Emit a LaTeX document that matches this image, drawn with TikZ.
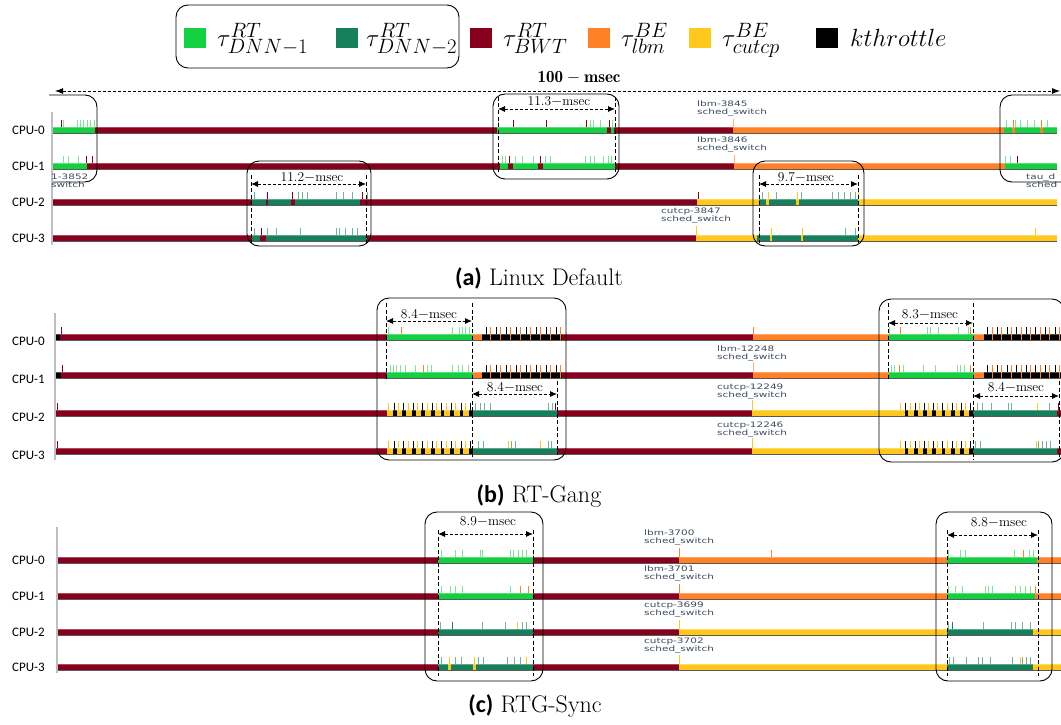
\documentclass[tikz,border=0pt]{standalone}
\usepackage{fontspec}
\usetikzlibrary{arrows.meta}
\newfontfamily\cpufont{Carlito}
\newfontfamily\tracefont[FakeStretch=1.4]{DejaVu Sans}

\definecolor{dnnone}{RGB}{18,208,64}
\definecolor{dnntwo}{RGB}{22,128,92}
\definecolor{bwt}{RGB}{136,0,30}
\definecolor{lbm}{RGB}{255,128,38}
\definecolor{cutcp}{RGB}{255,200,26}
\definecolor{tracetxt}{RGB}{60,74,96}

% one slice of a cpu row: colour, row y, x from, x to
\newcommand{\rowseg}[4]{\fill[#1] (#3,#2-3.5) rectangle (#4,#2+3.5);}
% event ticks on top of a row: colour, row y, x list
\newcommand{\rowticks}[3]{\foreach \tx in {#3} \draw[evtick,#1] (\tx,#2-3.5) -- (\tx,#2-10);}
% sheen and base line of a row: row y, x from, x to
\newcommand{\rowedge}[3]{%
  \fill[white,opacity=.3] (#2,#1-3.5) rectangle (#3,#1-2.5);
  \draw[rowline] (#2,#1+3.5) -- (#3,#1+3.5);}
% kthrottle on a cutcp row: row y, x from, x to, periods
\newcommand{\ythrottle}[4]{%
  \pgfmathsetmacro{\kp}{(#3-#2)/#4}
  \foreach \k in {1,...,#4}{%
    \pgfmathsetmacro{\kx}{#2+\kp*(\k-1)}
    \fill[cutcp] (\kx,#1-3.5) rectangle (\kx+0.6*\kp,#1+3.5);
    \fill[black] (\kx+0.6*\kp,#1-3.5) rectangle (\kx+\kp,#1+3.5);
    \draw[evtick,cutcp] (\kx+0.2*\kp,#1-3.5) -- (\kx+0.2*\kp,#1-10);
    \draw[evtick,black] (\kx+0.75*\kp,#1-3.5) -- (\kx+0.75*\kp,#1-10);}}
% kthrottle on an lbm row: row y, x from, x to, periods
\newcommand{\othrottle}[4]{%
  \fill[black] (#2,#1-3.5) rectangle (#3,#1+3.5);
  \pgfmathsetmacro{\kp}{(#3-#2)/#4}
  \foreach \k in {1,...,#4}{%
    \pgfmathsetmacro{\kx}{#2+\kp*(\k-1)}
    \draw[evtick,black] (\kx+0.4*\kp,#1-3.5) -- (\kx+0.4*\kp,#1-10);
    \draw[evtick,lbm] (\kx+0.85*\kp,#1+3.5) -- (\kx+0.85*\kp,#1-10);}}

\begin{document}
\begin{tikzpicture}[x=1pt,y=-1pt,
  evtick/.style={line width=1pt},
  swtick/.style={line width=.8pt},
  rowline/.style={draw=black!65,line width=.8pt},
  axisln/.style={draw=black!25,line width=1.6pt},
  hlbox/.style={draw=black,rounded corners=12pt,line width=.9pt},
  vguide/.style={line width=.8pt,dash pattern=on 4pt off 2.5pt},
  msarrow/.style={line width=.9pt,dash pattern=on 3pt off 2pt,{Latex[length=7pt,width=6pt]}-{Latex[length=7pt,width=6pt]}},
  spanarrow/.style={line width=.9pt,dash pattern=on 3pt off 2pt,{Latex[length=8pt,width=6pt]}-{Latex[length=8pt,width=6pt]}},
  cpulbl/.style={anchor=east,inner sep=0pt,font=\cpufont\fontsize{13}{14}\selectfont},
  swlbl/.style={anchor=west,inner sep=0pt,align=left,text=tracetxt,font=\tracefont\fontsize{7.5}{8}\selectfont},
  mslbl/.style={anchor=base,inner sep=0pt,font=\fontsize{13.5}{15}\selectfont},
  keylbl/.style={anchor=base west,inner sep=0pt,font=\fontsize{28}{30}\selectfont},
  caplbl/.style={anchor=base,inner sep=0pt,font=\fontsize{24}{26}\selectfont}]
\useasboundingbox (0,0) rectangle (1061,725);

% legend
\draw[hlbox] (176,5) rectangle (459,68);
\fill[dnnone] (184,28) rectangle (206,48);
\node[keylbl] (key-dnn1) at (217,47) {$\tau^{RT}_{DNN-1}$};
\fill[dnntwo] (336,28) rectangle (358,48);
\node[keylbl] (key-dnn2) at (366,47) {$\tau^{RT}_{DNN-2}$};
\fill[bwt] (470,28) rectangle (492,48);
\node[keylbl] (key-bwt) at (503,47) {$\tau^{RT}_{BWT}$};
\fill[lbm] (588,28) rectangle (610,48);
\node[keylbl] (key-lbm) at (621,47) {$\tau^{BE}_{lbm}$};
\fill[cutcp] (689,28) rectangle (711,48);
\node[keylbl] (key-cutcp) at (722,47) {$\tau^{BE}_{cutcp}$};
\fill[black] (816,28) rectangle (838,48);
\node[keylbl] (key-kthr) at (850,47) {$kthrottle$};

% 100 msec span
\node[anchor=base,inner sep=0pt,font=\fontsize{17}{19}\selectfont] (span-lbl) at (579,83) {$\mathbf{100-msec}$};
\coordinate (spanl) at (55,91);
\coordinate (spanr) at (1060,91);
\draw[spanarrow] (spanl) -- (spanr);

% ---------------- (a) Linux Default
\draw[axisln] (52,112) -- (52,245);
\node[cpulbl] (a-cpu0) at (45,130) {CPU-0};
\node[cpulbl] (a-cpu1) at (45,166) {CPU-1};
\node[cpulbl] (a-cpu2) at (45,202) {CPU-2};
\node[cpulbl] (a-cpu3) at (45,238) {CPU-3};

\rowseg{dnnone}{130}{53}{95}
\rowseg{bwt}{130}{95}{497}
\rowseg{dnnone}{130}{497}{614}
\rowseg{bwt}{130}{607}{611}
\rowseg{bwt}{130}{614}{733}
\rowseg{lbm}{130}{733}{1004}
\rowseg{dnnone}{130}{1004}{1057}
\rowseg{lbm}{130}{1012}{1015}
\rowseg{lbm}{130}{1040}{1043}
\rowticks{dnnone!55!white}{130}{63,77,80,83,87,90,94,498,590,593,600,612,1006,1015,1020,1027,1034,1047}
\rowticks{bwt}{130}{61,513,546,586,609}
\rowticks{lbm}{130}{1013,1041}
\draw[swtick,lbm!60!white] (733,126.5) -- (733,119);
\rowedge{130}{53}{1057}

\rowseg{dnnone}{166}{53}{87}
\rowseg{bwt}{166}{87}{500}
\rowseg{dnnone}{166}{500}{615}
\rowseg{bwt}{166}{508}{513}
\rowseg{bwt}{166}{538}{543}
\rowseg{bwt}{166}{615}{734}
\rowseg{lbm}{166}{734}{1005}
\rowseg{dnnone}{166}{1005}{1057}
\rowticks{dnnone!55!white}{166}{63,68,78,502,505,515,522,533,545,550,585,590,594,603,608,611,1005,1010}
\rowticks{bwt}{166}{86,92,509,540,1017}
\draw[swtick,lbm!60!white] (734,162.5) -- (734,155);
\rowedge{166}{53}{1057}

\rowseg{bwt}{202}{53}{252}
\rowseg{dnntwo}{202}{252}{360}
\rowseg{bwt}{202}{266}{268}
\rowseg{bwt}{202}{291}{295}
\rowseg{bwt}{202}{360}{697}
\rowseg{cutcp}{202}{697}{759}
\rowseg{dnntwo}{202}{759}{858}
\rowseg{cutcp}{202}{766}{769}
\rowseg{cutcp}{202}{796}{799}
\rowseg{cutcp}{202}{858}{1057}
\rowticks{dnntwo!60!white}{202}{254,298,302,307,336,343,352,367,762,776,801,832,838,844,850,855}
\rowticks{bwt}{202}{267,292,362,698}
\rowticks{cutcp}{202}{768,797,858}
\rowedge{202}{53}{1057}

\rowseg{bwt}{238}{53}{252}
\rowseg{dnntwo}{238}{252}{260}
\rowseg{bwt}{238}{260}{266}
\rowseg{dnntwo}{238}{266}{367}
\rowseg{bwt}{238}{367}{696}
\rowseg{cutcp}{238}{696}{757}
\rowseg{dnntwo}{238}{757}{858}
\rowseg{cutcp}{238}{770}{772}
\rowseg{cutcp}{238}{801}{803}
\rowseg{cutcp}{238}{858}{1057}
\rowticks{dnntwo!60!white}{238}{254,267,276,300,336,339,345,352,357,759,845,855}
\rowticks{bwt}{238}{261}
\rowticks{cutcp}{238}{771,802,1035}
\draw[swtick,cutcp] (696,234.5) -- (696,226);
\rowedge{238}{53}{1057}

\node[swlbl] (a-lbm0) at (697,109) {lbm-3845\\sched\_switch};
\node[swlbl] (a-lbm1) at (697,145) {lbm-3846\\sched\_switch};
\node[swlbl] (a-cut3) at (661,216) {cutcp-3847\\sched\_switch};
\node[swlbl] (a-left) at (51,181) {1-3852\\switch};
\node[swlbl] (a-right) at (1026,181) {tau\_d\\sched};

\draw[hlbox] (49,95) -- (97,95) -- (97,182) -- (53,182);
\draw[hlbox] (493,94) rectangle (619,179);
\draw[hlbox] (247,161) rectangle (371,246);
\draw[hlbox] (753,161) rectangle (864,246);
\draw[hlbox] (1000,95) rectangle (1100,182);

\draw[vguide] (498,97) -- (498,172);
\draw[vguide] (615,97) -- (615,172);
\coordinate (a113l) at (498,109);
\coordinate (a113r) at (615,109);
\draw[msarrow] (a113l) -- (a113r);
\node[mslbl] (a113) at (559,106) {11.3{$-$}msec};

\draw[vguide] (251,175) -- (251,243);
\draw[vguide] (366,175) -- (366,243);
\coordinate (a112l) at (251,184);
\coordinate (a112r) at (366,184);
\draw[msarrow] (a112l) -- (a112r);
\node[mslbl] (a112) at (312,181) {11.2{$-$}msec};

\draw[vguide] (759,175) -- (759,243);
\draw[vguide] (858,175) -- (858,243);
\coordinate (a97l) at (759,184);
\coordinate (a97r) at (858,184);
\draw[msarrow] (a97l) -- (a97r);
\node[mslbl] (a97) at (806,181) {9.7{$-$}msec};

\node[caplbl] (cap-a) at (539,285) {{\cpufont\bfseries (a)} Linux Default};

% ---------------- (b) RT-Gang
\draw[axisln] (55,313) -- (55,460);
\node[cpulbl] (b-cpu0) at (45,341) {CPU-0};
\node[cpulbl] (b-cpu1) at (45,379) {CPU-1};
\node[cpulbl] (b-cpu2) at (45,417) {CPU-2};
\node[cpulbl] (b-cpu3) at (45,455) {CPU-3};

\rowseg{black}{337}{56}{60}
\rowseg{bwt}{337}{60}{387}
\rowseg{dnnone}{337}{387}{473}
\rowseg{lbm}{337}{473}{482}
\othrottle{337}{482}{562}{8}
\rowseg{bwt}{337}{562}{753}
\rowseg{lbm}{337}{753}{889}
\rowseg{dnnone}{337}{889}{974}
\rowseg{lbm}{337}{974}{984}
\othrottle{337}{984}{1061}{8}
\rowticks{dnnone!55!white}{337}{388,452,459,462,465,469,889,927,930,938,958,968}
\rowticks{bwt}{337}{61}
\rowticks{lbm}{337}{401,753,900,970}
\rowedge{337}{56}{1061}

\rowseg{black}{375}{56}{61}
\rowseg{bwt}{375}{61}{387}
\rowseg{dnnone}{375}{387}{473}
\rowseg{lbm}{375}{473}{482}
\othrottle{375}{482}{562}{8}
\rowseg{bwt}{375}{562}{753}
\rowseg{lbm}{375}{753}{889}
\rowseg{dnnone}{375}{889}{974}
\rowseg{lbm}{375}{974}{984}
\othrottle{375}{984}{1061}{8}
\rowticks{dnnone!55!white}{375}{390,393,396,400,405,415,427,431,452,458,462,468,891,894,903,923,935,957,960,964}
\rowticks{bwt}{375}{62}
\rowticks{lbm}{375}{423,899,970}
\draw[swtick,lbm!60!white] (753,371.5) -- (753,362);
\rowedge{375}{56}{1061}

\rowseg{bwt}{413}{56}{387}
\ythrottle{413}{387}{473}{9}
\rowseg{dnntwo}{413}{473}{557}
\rowseg{bwt}{413}{557}{752}
\rowseg{cutcp}{413}{752}{899}
\ythrottle{413}{899}{973}{8}
\rowseg{dnntwo}{413}{973}{1057}
\rowseg{bwt}{413}{1057}{1061}
\rowticks{dnntwo!60!white}{413}{475,480,484,490,548,552,977,982,991,1008,1011,1049}
\rowticks{bwt}{413}{57,555,1058}
\rowticks{cutcp}{413}{1037}
\draw[swtick,cutcp] (752,409.5) -- (752,400);
\rowedge{413}{56}{1061}

\rowseg{bwt}{451}{56}{387}
\ythrottle{451}{387}{473}{9}
\rowseg{dnntwo}{451}{473}{557}
\rowseg{bwt}{451}{557}{752}
\rowseg{cutcp}{451}{752}{899}
\ythrottle{451}{899}{973}{8}
\rowseg{dnntwo}{451}{973}{1057}
\rowseg{bwt}{451}{1057}{1061}
\rowticks{dnntwo!60!white}{451}{478,483,511,515,548,551,975,980,1038,1042,1046,1050}
\rowticks{bwt}{451}{57}
\rowticks{cutcp}{451}{508,540,1036}
\draw[swtick,cutcp] (752,447.5) -- (752,438);
\rowedge{451}{56}{1061}

\node[swlbl] (b-lbm1) at (717,354) {lbm-12248\\sched\_switch};
\node[swlbl] (b-cut2) at (717,392) {cutcp-12249\\sched\_switch};
\node[swlbl] (b-cut3) at (717,430) {cutcp-12246\\sched\_switch};

\draw[hlbox] (377,298) rectangle (566,460);
\draw[hlbox] (879,299) rectangle (1064,462);

\draw[vguide] (386,303) -- (386,381);
\draw[vguide] (472,303) -- (472,458);
\draw[vguide] (557,381) -- (557,455);
\coordinate (b84al) at (386,321);
\coordinate (b84ar) at (472,321);
\draw[msarrow] (b84al) -- (b84ar);
\node[mslbl] (b84a) at (429,318) {8.4{$-$}msec};
\coordinate (b84bl) at (472,394);
\coordinate (b84br) at (557,394);
\draw[msarrow] (b84bl) -- (b84br);
\node[mslbl] (b84b) at (515,391) {8.4{$-$}msec};

\draw[vguide] (888,303) -- (888,381);
\draw[vguide] (973,303) -- (973,460);
\draw[vguide] (1059,381) -- (1059,460);
\coordinate (b83l) at (888,323);
\coordinate (b83r) at (973,323);
\draw[msarrow] (b83l) -- (b83r);
\node[mslbl] (b83) at (930,318) {8.3{$-$}msec};
\coordinate (b84cl) at (973,396);
\coordinate (b84cr) at (1059,396);
\draw[msarrow] (b84cl) -- (b84cr);
\node[mslbl] (b84c) at (1016,391) {8.4{$-$}msec};

\node[caplbl] (cap-b) at (539,502) {{\cpufont\bfseries (b)} RT-Gang};

% ---------------- (c) RTG-Sync
\draw[axisln] (57,527) -- (57,673);
\node[cpulbl] (c-cpu0) at (45,560) {CPU-0};
\node[cpulbl] (c-cpu1) at (45,596) {CPU-1};
\node[cpulbl] (c-cpu2) at (45,632) {CPU-2};
\node[cpulbl] (c-cpu3) at (45,667) {CPU-3};

\rowseg{bwt}{560}{58}{438}
\rowseg{dnnone}{560}{438}{533}
\rowseg{bwt}{560}{533}{679}
\rowseg{lbm}{560}{679}{947}
\rowseg{dnnone}{560}{947}{1037}
\rowseg{lbm}{560}{1037}{1061}
\rowticks{dnnone!55!white}{560}{441,455,462,480,482,510,513,518,522,526,533,948,960,965,1014,1029,1033}
\rowticks{lbm}{560}{771,1023}
\draw[swtick,lbm] (679,556.5) -- (679,548);
\rowedge{560}{58}{1061}

\rowseg{bwt}{596}{58}{438}
\rowseg{dnnone}{596}{438}{533}
\rowseg{bwt}{596}{533}{679}
\rowseg{lbm}{596}{679}{947}
\rowseg{dnnone}{596}{947}{1035}
\rowseg{lbm}{596}{1035}{1061}
\rowticks{dnnone!55!white}{596}{441,450,455,462,510,948,955,962,985,988,992,1015,1020,1025,1030}
\rowticks{lbm}{596}{520,528,1035}
\draw[swtick,lbm] (679,592.5) -- (679,584);
\rowedge{596}{58}{1061}

\rowseg{bwt}{632}{58}{438}
\rowseg{dnntwo}{632}{438}{533}
\rowseg{bwt}{632}{533}{679}
\rowseg{cutcp}{632}{679}{947}
\rowseg{dnntwo}{632}{947}{1033}
\rowseg{cutcp}{632}{1033}{1061}
\rowticks{dnntwo!60!white}{632}{440,482,505,522,526,948,983,1011,1015,1022,1030}
\rowticks{dnntwo}{632}{452,952}
\rowticks{cutcp}{632}{517}
\draw[swtick,cutcp] (679,628.5) -- (679,620);
\rowedge{632}{58}{1061}

\rowseg{bwt}{667}{58}{438}
\rowseg{dnntwo}{667}{438}{533}
\rowseg{bwt}{667}{533}{679}
\rowseg{cutcp}{667}{679}{947}
\rowseg{dnntwo}{667}{947}{1033}
\rowseg{cutcp}{667}{1033}{1061}
\rowseg{cutcp}{667}{448}{451}
\rowseg{cutcp}{667}{473}{476}
\rowticks{dnntwo!60!white}{667}{441,455,461,478,483,507,514,520,949,953,966,978,982,990,1012,1022,1026,1030}
\rowticks{cutcp}{667}{449,474,526,1020}
\draw[swtick,cutcp] (679,663.5) -- (679,655);
\rowedge{667}{58}{1061}

\node[swlbl] (c-lbm0) at (644,538) {lbm-3700\\sched\_switch};
\node[swlbl] (c-lbm1) at (644,574) {lbm-3701\\sched\_switch};
\node[swlbl] (c-cut2) at (644,610) {cutcp-3699\\sched\_switch};
\node[swlbl] (c-cut3) at (644,646) {cutcp-3702\\sched\_switch};

\draw[hlbox] (425,512) rectangle (543,681);
\draw[hlbox] (936,512) rectangle (1052,681);

\draw[vguide] (438,530) -- (438,676);
\draw[vguide] (533,530) -- (533,676);
\coordinate (c89l) at (438,534);
\coordinate (c89r) at (533,534);
\draw[msarrow] (c89l) -- (c89r);
\node[mslbl] (c89) at (488,525) {8.9{$-$}msec};

\draw[vguide] (947,530) -- (947,676);
\draw[vguide] (1038,530) -- (1038,676);
\coordinate (c88l) at (947,535);
\coordinate (c88r) at (1038,535);
\draw[msarrow] (c88l) -- (c88r);
\node[mslbl] (c88) at (999,526) {8.8{$-$}msec};

\node[caplbl] (cap-c) at (535,712) {{\cpufont\bfseries (c)} RTG-Sync};
\end{tikzpicture}
\end{document}
